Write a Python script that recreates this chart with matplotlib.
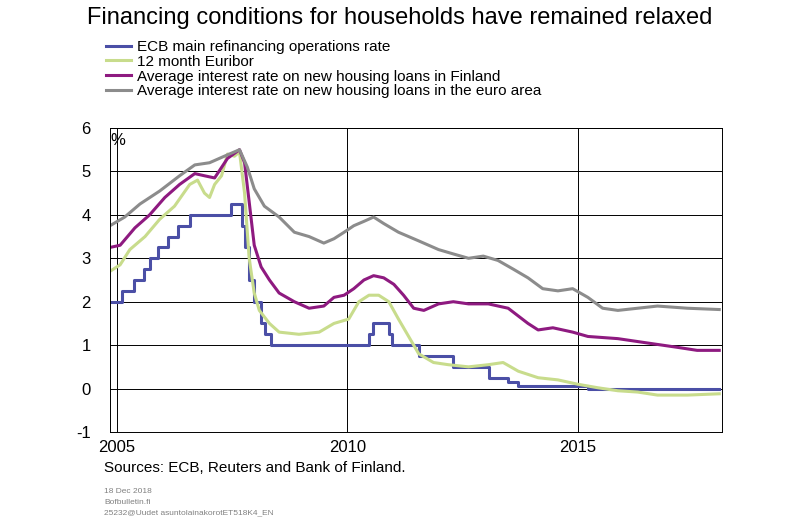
import matplotlib
matplotlib.use("Agg")
import matplotlib.pyplot as plt

plt.rcParams["font.family"] = "Liberation Sans"
plt.rcParams["axes.unicode_minus"] = False

# ECB main refinancing rate (step changes)
ecb_x = [2004.85, 2005.11, 2005.37, 2005.58, 2005.71, 2005.89, 2006.10, 2006.32, 2006.58,
         2007.48, 2007.72, 2007.79, 2007.87, 2007.98, 2008.13, 2008.22, 2008.35, 2010.47,
         2010.55, 2010.90, 2010.98, 2011.55, 2012.30, 2013.08, 2013.49, 2013.71, 2015.22, 2018.07]
ecb_y = [2.0, 2.25, 2.5, 2.75, 3.0, 3.25, 3.5, 3.75, 4.0,
         4.25, 3.75, 3.25, 2.5, 2.0, 1.5, 1.25, 1.0, 1.25,
         1.5, 1.25, 1.0, 0.75, 0.5, 0.25, 0.15, 0.05, 0.0, 0.0]

eur_x = [2004.85, 2005.07, 2005.28, 2005.61, 2005.93, 2006.25, 2006.58, 2006.75, 2006.90, 2007.01,
         2007.12, 2007.27, 2007.40, 2007.55, 2007.66, 2007.77, 2007.87, 2007.98, 2008.09, 2008.31,
         2008.52, 2008.95, 2009.39, 2009.71, 2010.03, 2010.25, 2010.47, 2010.68, 2010.90, 2011.11,
         2011.33, 2011.55, 2011.87, 2012.19, 2012.63, 2013.06, 2013.38, 2013.71, 2014.14, 2014.57,
         2015.00, 2015.43, 2015.87, 2016.30, 2016.73, 2017.38, 2018.07]
eur_y = [2.7, 2.85, 3.2, 3.5, 3.9, 4.2, 4.7, 4.8, 4.5, 4.4,
         4.7, 4.9, 5.4, 5.35, 5.45, 4.5, 3.0, 2.2, 1.8, 1.5,
         1.3, 1.25, 1.3, 1.5, 1.6, 2.0, 2.15, 2.15, 2.0, 1.6,
         1.2, 0.8, 0.6, 0.55, 0.5, 0.55, 0.6, 0.4, 0.25, 0.2,
         0.1, 0.02, -0.05, -0.08, -0.15, -0.15, -0.12]

fin_x = [2004.85, 2005.07, 2005.39, 2005.71, 2006.04, 2006.36, 2006.69, 2006.90, 2007.12, 2007.40,
         2007.66, 2007.77, 2007.87, 2007.98, 2008.13, 2008.31, 2008.52, 2008.85, 2009.17, 2009.49,
         2009.71, 2009.93, 2010.14, 2010.36, 2010.57, 2010.79, 2011.01, 2011.22, 2011.44, 2011.66,
         2011.98, 2012.30, 2012.63, 2013.06, 2013.49, 2013.92, 2014.14, 2014.46, 2014.89, 2015.22,
         2015.87, 2016.51, 2017.16, 2017.59, 2018.07]
fin_y = [3.25, 3.3, 3.7, 4.0, 4.4, 4.7, 4.95, 4.9, 4.85, 5.3,
         5.5, 5.2, 4.3, 3.3, 2.8, 2.5, 2.2, 2.0, 1.85, 1.9,
         2.1, 2.15, 2.3, 2.5, 2.6, 2.55, 2.4, 2.15, 1.85, 1.8,
         1.95, 2.0, 1.95, 1.95, 1.85, 1.5, 1.35, 1.4, 1.3, 1.2,
         1.15, 1.05, 0.95, 0.88, 0.88]

ea_x = [2004.85, 2005.17, 2005.50, 2005.93, 2006.36, 2006.69, 2007.01, 2007.33, 2007.66, 2007.83,
        2007.98, 2008.20, 2008.52, 2008.85, 2009.17, 2009.49, 2009.71, 2009.93, 2010.14, 2010.36,
        2010.57, 2010.79, 2011.11, 2011.55, 2011.98, 2012.30, 2012.63, 2012.95, 2013.27, 2013.60,
        2013.92, 2014.24, 2014.57, 2014.89, 2015.22, 2015.54, 2015.87, 2016.30, 2016.73, 2017.38,
        2018.07]
ea_y = [3.75, 3.95, 4.25, 4.55, 4.9, 5.15, 5.2, 5.35, 5.5, 5.1,
        4.6, 4.2, 3.95, 3.6, 3.5, 3.35, 3.45, 3.6, 3.75, 3.85,
        3.95, 3.8, 3.6, 3.4, 3.2, 3.1, 3.0, 3.05, 2.95, 2.75,
        2.55, 2.3, 2.25, 2.3, 2.1, 1.85, 1.8, 1.85, 1.9, 1.85,
        1.82]

fig = plt.figure(figsize=(8, 5.22), dpi=100)
ax = fig.add_axes([0.1375, 0.1724, 0.765, 0.5824])

ax.step(ecb_x, ecb_y, where="post", color="#4b4fa6", lw=2.2, label="ECB main refinancing operations rate")
ax.plot(eur_x, eur_y, color="#c8dc8c", lw=2.2, label="12 month Euribor")
ax.plot(fin_x, fin_y, color="#8e1a80", lw=2.2, label="Average interest rate on new housing loans in Finland")
ax.plot(ea_x, ea_y, color="#8c8c8c", lw=2.2, label="Average interest rate on new housing loans in the euro area")

ax.set_xlim(2004.85, 2018.13)
ax.set_ylim(-1, 6)
ax.set_yticks(range(-1, 7))
ax.set_xticks([2005, 2010, 2015])
ax.tick_params(labelsize=12, length=0)
ax.tick_params(axis="y", pad=14)
ax.tick_params(axis="x", pad=6)
ax.grid(True, color="black", lw=0.7)
for s in ax.spines.values():
    s.set_linewidth(0.7)
ax.text(0.0, 0.985, "%", transform=ax.transAxes, fontsize=12, ha="left", va="top")

fig.text(0.5, 0.965, "Financing conditions for households have remained relaxed", fontsize=17, ha="center", va="center")
fig.legend(loc="upper left", bbox_to_anchor=(0.125, 0.935), fontsize=11, frameon=False,
           handlelength=1.6, labelspacing=0.05, borderaxespad=0, handletextpad=0.4)
fig.text(0.13, 0.103, "Sources: ECB, Reuters and Bank of Finland.", fontsize=11, va="center")
fig.text(0.13, 0.058, "18 Dec 2018", fontsize=6, color="#808080", va="center")
fig.text(0.13, 0.037, "Bofbulletin.fi", fontsize=6, color="#808080", va="center")
fig.text(0.13, 0.017, "25232@Uudet asuntolainakorotET518K4_EN", fontsize=6, color="#808080", va="center")

fig.savefig("out.png", dpi=100)
